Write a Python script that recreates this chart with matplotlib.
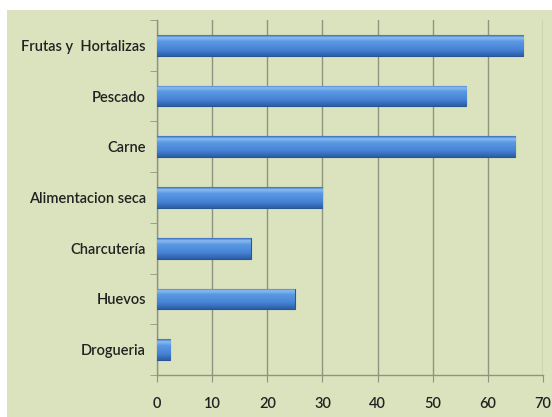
import matplotlib
matplotlib.use("Agg")
import matplotlib.pyplot as plt
import numpy as np
from matplotlib.patches import Rectangle

categories = ["Frutas y  Hortalizas", "Pescado", "Carne", "Alimentacion seca",
              "Charcutería", "Huevos", "Drogueria"]
values = [66.4, 56.1, 65.0, 30.0, 17.0, 25.0, 2.4]
xticks = [0, 10, 20, 30, 40, 50, 60, 70]

bg = "#dae3bd"
fig = plt.figure(figsize=(5.52, 4.17), dpi=100)
fig.patch.set_facecolor("white")
fig.patches.append(Rectangle((7/552, 0), 1, 1 - 10/417, transform=fig.transFigure,
                             facecolor=bg, edgecolor="none", zorder=-10))
ax = fig.add_axes([157/552, 1 - 375/417, (543 - 157)/552, (375 - 20)/417])
ax.set_facecolor(bg)

n = len(categories)
ypos = np.arange(n)
bars = ax.barh(ypos, values, height=0.41, color="#4a86d8", edgecolor="#2a5592",
               linewidth=0.8, zorder=3)

# vertical gradient inside each bar
grad = np.linspace(0, 1, 64).reshape(-1, 1)
cmap = matplotlib.colors.LinearSegmentedColormap.from_list(
    "barg", [(0.0, "#3a6fc0"), (0.12, "#8bbcf0"), (0.3, "#5b98e4"),
             (0.7, "#4683d4"), (1.0, "#2c5ea8")])
for b in bars:
    x0, y0, w, h = b.get_x(), b.get_y(), b.get_width(), b.get_height()
    im = ax.imshow(grad, extent=(x0, x0 + w, y0 + h, y0), aspect="auto",
                   cmap=cmap, zorder=3.5, interpolation="bilinear")
    im.set_clip_path(b)

ax.set_ylim(n - 0.5, -0.5)
ax.set_xlim(0, 70)
ax.set_xticks(xticks)
ax.set_xticklabels([str(t) for t in xticks])
ax.set_yticks(ypos)
ax.set_yticklabels(categories)
ax.set_yticks(np.arange(-0.5, n, 1), minor=True)

ax.grid(axis="x", color="#8e9480", linewidth=1.0, zorder=1)
ax.tick_params(axis="y", which="major", length=0, pad=8, labelsize=10.5, labelcolor="#222222")
ax.tick_params(axis="y", which="minor", length=5, color="#8e9480", direction="out")
ax.tick_params(axis="x", length=5, color="#8e9480", direction="out", pad=11,
               labelsize=10.5, labelcolor="#222222")

for s in ["top", "right"]:
    ax.spines[s].set_visible(False)
for s in ["left", "bottom"]:
    ax.spines[s].set_color("#8e9480")
    ax.spines[s].set_linewidth(1.0)

for lab in ax.get_yticklabels() + ax.get_xticklabels():
    lab.set_fontfamily(["Lato", "DejaVu Sans"])
    lab.set_fontweight("semibold")

fig.savefig("out.png", dpi=100, facecolor=fig.get_facecolor())
